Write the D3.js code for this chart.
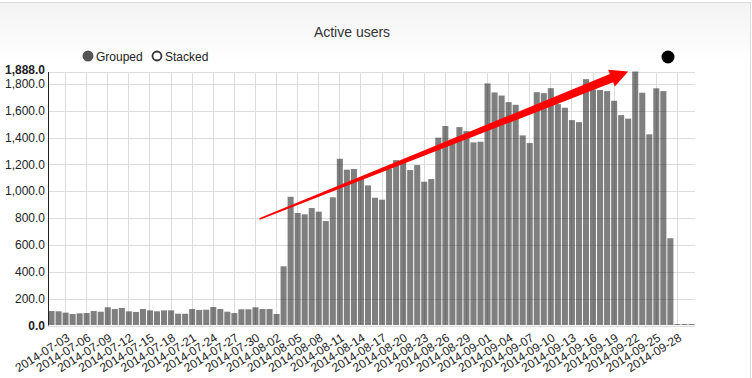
<!DOCTYPE html>
<html>
<head>
<meta charset="utf-8">
<script src="https://cdn.jsdelivr.net/npm/d3@7"></script>
<style>
  body { margin: 0; background: #fff; font-family: "Liberation Sans", Arial, sans-serif; }
  .grid line { stroke: #dcdcdc; stroke-width: 1; shape-rendering: crispEdges; }
  .axis text { font-size: 12px; fill: #222; }
</style>
</head>
<body>
<div id="chart"></div>
<script>
// Data
var title = "Active users"
var firstDay = "2014-07-01"
var lastDay = "2014-09-30"
var activeUsers = [
  104, 102, 92, 82, 87, 89, 104, 99, 132, 119,
  127, 102, 97, 119, 109, 102, 109, 109, 84, 84,
  119, 112, 114, 134, 119, 99, 89, 117, 117, 132,
  119, 119, 82,
  437, 955, 834, 824, 871, 844, 774, 951, 1238, 1157,
  1162, 1090, 1040, 948, 933, 1165, 1228, 1216, 1154, 1191,
  1067, 1087, 1395, 1482, 1382, 1474, 1444, 1360, 1365,
  1799, 1732, 1709, 1660, 1640, 1412, 1355, 1734, 1727, 1764,
  1645, 1618, 1526, 1511, 1831, 1755, 1750, 1742, 1670, 1563,
  1537, 1888, 1730, 1420, 1763, 1742, 646,
  0, 0, 0
]
var yMax = 1888
var yTicks = [0, 200, 400, 600, 800, 1000, 1200, 1400, 1600, 1800, 1888]
var legendItems = ["Grouped", "Stacked"]
// trend arrow: from (day, value) to (day, value)
var arrowFrom = ["2014-07-31", 790]
var arrowTo = ["2014-09-21", 1888]

var fmtDay = d3.utcFormat("%Y-%m-%d")
var days = d3.utcDay.range(new Date(firstDay), d3.utcDay.offset(new Date(lastDay), 1)).map(fmtDay)
var data = days.map((d, i) => ({day: d, value: activeUsers[i]}))
var xTicks = days.filter((d, i) => i >= 2 && (i - 2) % 3 == 0)

const W = 752, H = 378
const margin = {top: 71.5, right: 57, bottom: 53, left: 48}
const width = W - margin.left - margin.right,
    height = H - margin.top - margin.bottom

var svg = d3.select("#chart")
  .append("svg")
  .attr("width", W)
  .attr("height", H)

// panel background + border
var grad = svg.append("defs").append("linearGradient")
  .attr("id", "hdr").attr("x1", 0).attr("y1", 0).attr("x2", 0).attr("y2", 1)
grad.append("stop").attr("offset", "0%").attr("stop-color", "#f3f3f3")
grad.append("stop").attr("offset", "100%").attr("stop-color", "#ffffff")
svg.append("rect")
  .attr("x", -1).attr("y", 2.5).attr("width", 751.5).attr("height", 60)
  .attr("fill", "url(#hdr)")
svg.append("path")
  .attr("d", "M-1,2.5H750.5V378")
  .attr("fill", "none").attr("stroke", "#dadada")

// title
svg.append("text")
  .attr("x", 352).attr("y", 37)
  .attr("text-anchor", "middle")
  .style("font-size", "14px").style("fill", "#333")
  .text(title)

// legend
var legend = svg.append("g").attr("transform", "translate(88,56)")
legend.append("circle").attr("cx", 0).attr("cy", 0).attr("r", 5.5).attr("fill", "#555")
legend.append("text").attr("x", 8).attr("y", 4.5).style("font-size", "12px").style("fill", "#222").text(legendItems[0])
legend.append("circle").attr("cx", 69).attr("cy", 0).attr("r", 4.5)
  .attr("fill", "#fff").attr("stroke", "#333").attr("stroke-width", 1.8)
legend.append("text").attr("x", 77).attr("y", 4.5).style("font-size", "12px").style("fill", "#222").text(legendItems[1])

// control dot
svg.append("circle").attr("cx", 668).attr("cy", 57).attr("r", 6.5).attr("fill", "#000")

var g = svg.append("g")
  .attr("transform", "translate(" + margin.left + "," + margin.top + ")")

// scales
var x = d3.scaleBand().domain(days).range([0, width]).paddingInner(0.14).paddingOuter(0.07)
var y = d3.scaleLinear().domain([0, yMax]).range([height, 0])

// grid
g.append("g").attr("class", "grid")
  .selectAll("line.h").data(yTicks).enter().append("line")
  .attr("x1", 0).attr("x2", width)
  .attr("y1", d => Math.round(y(d)) + 0.5).attr("y2", d => Math.round(y(d)) + 0.5)
g.append("g").attr("class", "grid")
  .selectAll("line.v").data(xTicks).enter().append("line")
  .attr("x1", d => x(d) + x.bandwidth() / 2).attr("x2", d => x(d) + x.bandwidth() / 2)
  .attr("y1", 0).attr("y2", height)

// bars
g.append("g")
  .selectAll("rect")
  .data(data)
  .enter()
  .append("rect")
  .attr("x", d => x(d.day))
  .attr("width", x.bandwidth())
  .attr("y", d => Math.min(y(d.value), height - 1))
  .attr("height", d => Math.max(height - y(d.value), 1))
  .attr("fill", "#000")
  .attr("fill-opacity", 0.5)

// y axis
var yAxis = g.append("g").attr("class", "axis")
  .call(d3.axisLeft(y).tickValues(yTicks).tickFormat(d3.format(",.1f")).tickSize(0).tickPadding(3))
yAxis.select(".domain").attr("stroke", "#222")
yAxis.selectAll("text")
  .attr("dy", "0.35em")
  .style("font-weight", d => (d == 0 || d == yMax) ? "bold" : "normal")
yAxis.selectAll(".tick")
  .filter(d => d == yMax)
  .select("text").attr("dy", "0.2em")

// x axis
var xAxis = g.append("g").attr("class", "axis")
  .attr("transform", "translate(0," + height + ")")
  .call(d3.axisBottom(x).tickValues(xTicks).tickSize(0))
xAxis.select(".domain").remove()
xAxis.selectAll("text")
  .attr("text-anchor", "end")
  .attr("dy", 0)
  .attr("y", 0)
  .attr("transform", "translate(5,15) rotate(-32)")

// trend arrow (tapered)
var p0 = [x(arrowFrom[0]), y(arrowFrom[1])]
var p1 = [x(arrowTo[0]) + x.bandwidth() / 2, y(arrowTo[1])]
var dx = p1[0] - p0[0], dy = p1[1] - p0[1]
var len = Math.sqrt(dx * dx + dy * dy)
var ux = dx / len, uy = dy / len, nx = -uy, ny = ux
var headLen = 18, headW = 9, w0 = 0.8, w1 = 4.4
var bx = p1[0] - ux * headLen, by = p1[1] - uy * headLen
var pts = [
  [p0[0] + nx * w0, p0[1] + ny * w0],
  [bx + nx * w1, by + ny * w1],
  [bx + nx * headW, by + ny * headW],
  p1,
  [bx - nx * headW, by - ny * headW],
  [bx - nx * w1, by - ny * w1],
  [p0[0] - nx * w0, p0[1] - ny * w0]
]
g.append("path")
  .attr("d", "M" + pts.map(p => p.join(",")).join("L") + "Z")
  .attr("fill", "#ff0000")
</script>
</body>
</html>
